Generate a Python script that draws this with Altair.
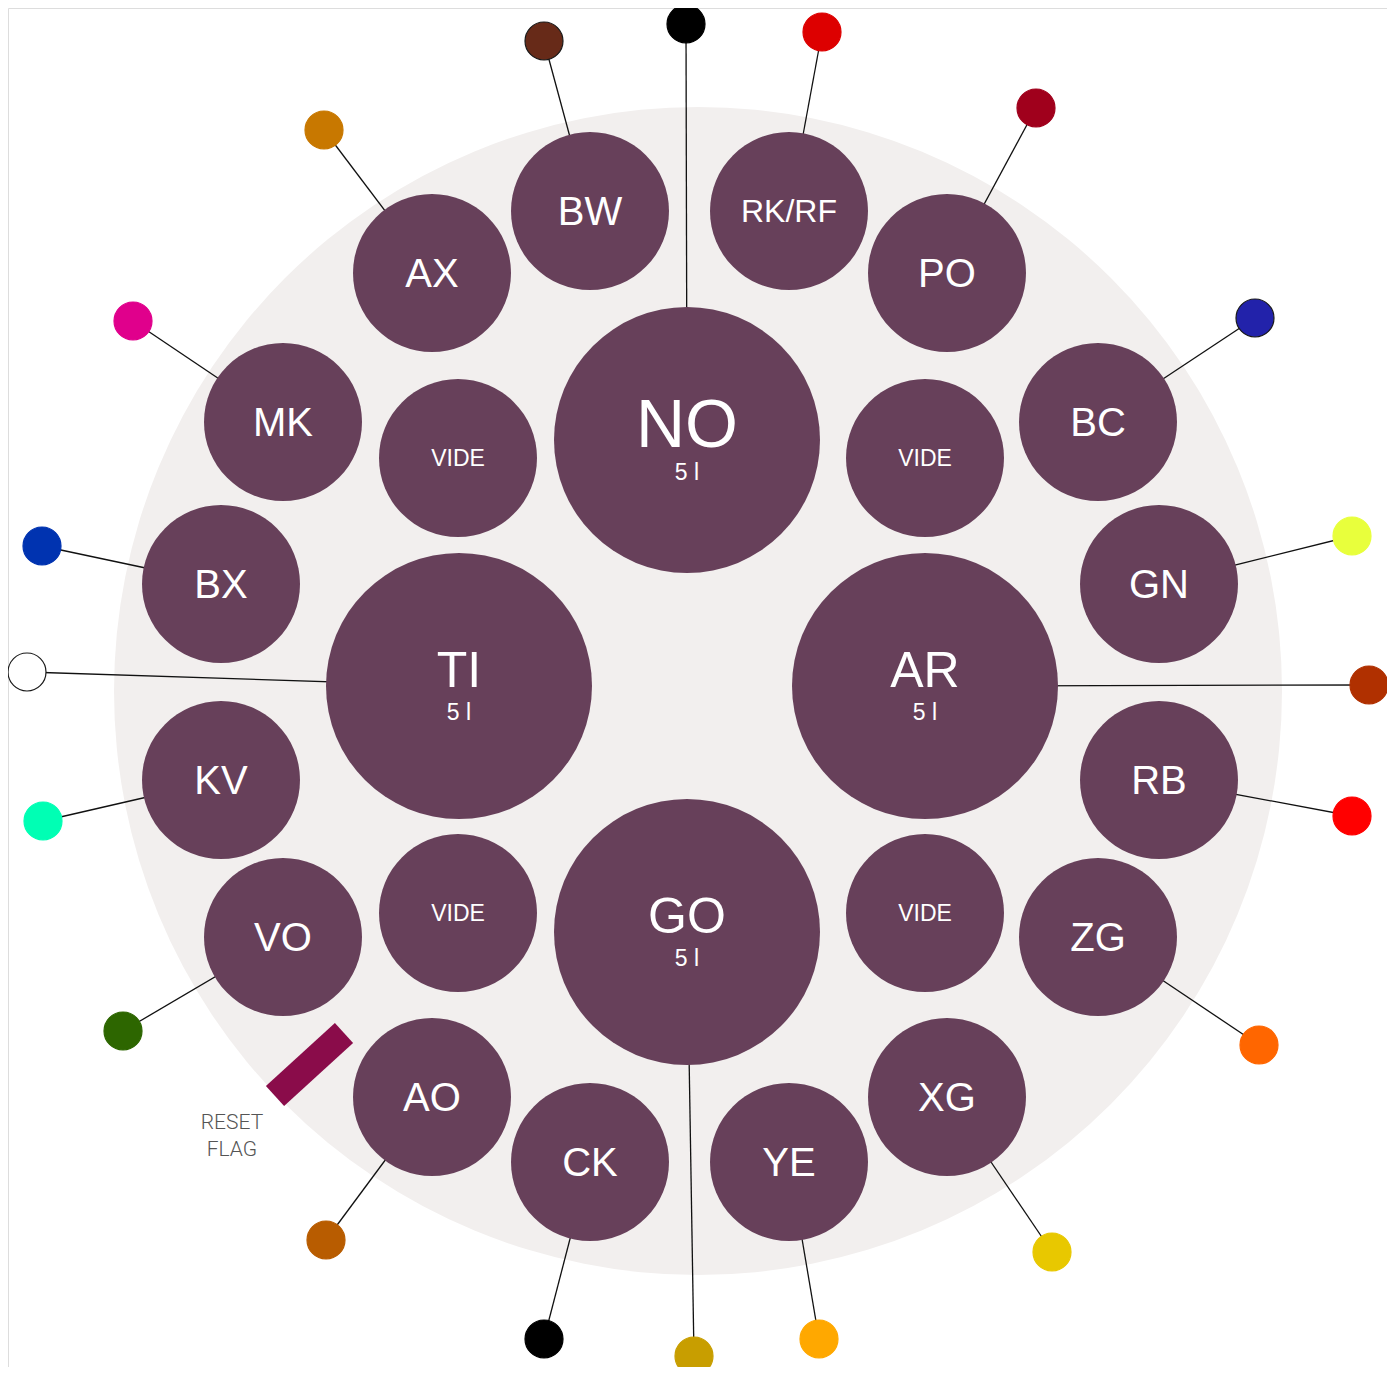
import math
import altair as alt
import pandas as pd

# ---- data (pixel coordinates of the layout) ----
big_names = ["NO", "TI", "AR", "GO"]
big_x = [687, 459, 925, 687]
big_y = [440, 686, 686, 932]
big_fs = [68, 50, 50, 50]
big_sub = ["5 l", "5 l", "5 l", "5 l"]

mid_names = ["BW", "RK/RF", "AX", "PO", "MK", "BC", "VIDE", "VIDE", "BX", "GN",
             "KV", "RB", "VO", "ZG", "VIDE", "VIDE", "AO", "XG", "CK", "YE"]
mid_x = [590, 789, 432, 947, 283, 1098, 458, 925, 221, 1159,
         221, 1159, 283, 1098, 458, 925, 432, 947, 590, 789]
mid_y = [211, 211, 273, 273, 422, 422, 458, 458, 584, 584,
         780, 780, 937, 937, 913, 913, 1097, 1097, 1162, 1162]
mid_fs = [40, 32, 40, 40, 40, 40, 23, 23, 40, 40,
          40, 40, 40, 40, 23, 23, 40, 40, 40, 40]

dot_names = ["BW", "NO", "RK/RF", "PO", "AX", "BC", "MK", "GN", "BX", "TI",
             "AR", "KV", "RB", "VO", "ZG", "AO", "XG", "CK", "GO", "YE"]
dot_x = [544, 686, 822, 1036, 324, 1255, 133, 1352, 42, 27,
         1369, 43, 1352, 123, 1259, 326, 1052, 544, 694, 819]
dot_y = [41, 24, 32, 108, 130, 318, 321, 536, 546, 672,
         685, 821, 816, 1031, 1045, 1240, 1252, 1339, 1356, 1339]
dot_color = ["#672A18", "#000000", "#DD0000", "#A0001C", "#C87800", "#2222AA",
             "#E0008C", "#E8FF3C", "#0033B0", "#FFFFFF", "#B03000", "#00FFB4",
             "#FF0000", "#2D6600", "#FF6600", "#B85C00", "#E8C800", "#000000",
             "#C89E00", "#FFA800"]
dot_outline = [True, False, False, False, False, True, False, False, False, True,
               False, False, False, False, False, False, False, False, False, False]

reset_x = [275, 344]
reset_y = [1096, 1033]
reset_text = ["RESET", "FLAG"]
reset_text_x = [232, 232]
reset_text_y = [1129, 1156]

bg_center = (698, 691)
bg_radius = 584

# ---- styling ----
NODE = "#67405A"
BG = "#F2EFEE"
R_BIG, R_MID, R_DOT = 133, 79, 19
FONT = "Liberation Sans"


def sym(r):
    # Vega circle symbols: radius = sqrt(size) / 2
    return (2 * r) ** 2


xs = alt.Scale(domain=[8, 1387], nice=False, zero=False)
ys = alt.Scale(domain=[8, 1367], nice=False, zero=False, reverse=True)
X = lambda f: alt.X(f, type="quantitative", scale=xs, axis=None)
Y = lambda f: alt.Y(f, type="quantitative", scale=ys, axis=None)

bg_df = pd.DataFrame({"x": [bg_center[0]], "y": [bg_center[1]], "s": [sym(bg_radius)]})

nodes = pd.DataFrame({
    "name": big_names + mid_names,
    "x": big_x + mid_x,
    "y": big_y + mid_y,
    "fs": big_fs + mid_fs,
    "r": [R_BIG] * len(big_names) + [R_MID] * len(mid_names),
})
nodes["s"] = [sym(r) for r in nodes["r"]]
nodes["ty"] = [y - 17 + 0.358 * f for y, f in zip(big_y, big_fs)] + \
              [y + 0.358 * f for y, f in zip(mid_y, mid_fs)]

pos = {n: (x, y) for n, x, y in zip(nodes["name"], nodes["x"], nodes["y"])}
dots = pd.DataFrame({"name": dot_names, "x": dot_x, "y": dot_y, "fill": dot_color})
dots["stroke"] = ["#1a1a1a" if o else c for o, c in zip(dot_outline, dot_color)]
dots["x2"] = [pos[n][0] for n in dot_names]
dots["y2"] = [pos[n][1] for n in dot_names]
dots["s"] = sym(R_DOT)

subs = pd.DataFrame({"t": big_sub, "x": big_x,
                     "y": [y - 17 + 0.358 * f + 33 for y, f in zip(big_y, big_fs)]})

reset_df = pd.DataFrame({"x": [reset_x[0]], "y": [reset_y[0]],
                         "x2": [reset_x[1]], "y2": [reset_y[1]]})
reset_t = pd.DataFrame({"t": reset_text, "x": reset_text_x, "y": reset_text_y})

bg = alt.Chart(bg_df).mark_circle(color=BG, opacity=1, strokeWidth=0).encode(
    x=X("x"), y=Y("y"), size=alt.Size("s:Q", scale=None))

lines = alt.Chart(dots).mark_rule(color="#111111", strokeWidth=1.3).encode(
    x=X("x"), y=Y("y"), x2="x2:Q", y2="y2:Q")

dot_marks = alt.Chart(dots).mark_circle(opacity=1, strokeWidth=1.2).encode(
    x=X("x"), y=Y("y"), size=alt.Size("s:Q", scale=None),
    fill=alt.Fill("fill:N", scale=None), stroke=alt.Stroke("stroke:N", scale=None))

node_marks = alt.Chart(nodes).mark_circle(color=NODE, opacity=1, strokeWidth=0).encode(
    x=X("x"), y=Y("y"), size=alt.Size("s:Q", scale=None))

labels = alt.Chart(nodes).mark_text(color="white", font=FONT, baseline="alphabetic",
                                    align="center").encode(
    x=X("x"), y=Y("ty"), text="name:N", size=alt.Size("fs:Q", scale=None))

sub_labels = alt.Chart(subs).mark_text(color="white", font=FONT, baseline="alphabetic",
                                       align="center", fontSize=23).encode(
    x=X("x"), y=Y("y"), text="t:N")

reset_bar = alt.Chart(reset_df).mark_rule(color="#8A0C4A", strokeWidth=27,
                                           strokeCap="butt").encode(
    x=X("x"), y=Y("y"), x2="x2:Q", y2="y2:Q")

reset_label = alt.Chart(reset_t).mark_text(color="#555555", font="Roboto", fontSize=21,
                                           fontWeight=300, baseline="alphabetic",
                                           align="center").encode(
    x=X("x"), y=Y("y"), text="t:N")

chart = alt.layer(bg, lines, dot_marks, node_marks, labels, sub_labels,
                  reset_bar, reset_label).properties(
    width=1379, height=1359, padding=0, autosize=alt.AutoSizeParams(type="none")
).configure_view(stroke="transparent", strokeWidth=0).configure(background="transparent")

chart.save("out.html", embed_options={"renderer": "svg", "actions": False})
